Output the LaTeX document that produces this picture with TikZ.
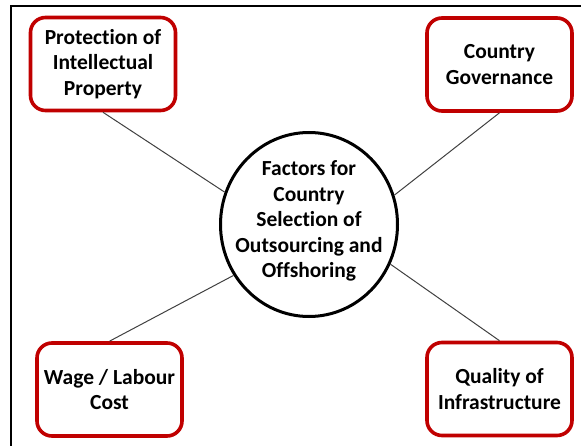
\documentclass[tikz,border=0pt]{standalone}
\usepackage{fontspec}
\setmainfont{Carlito}[Ligatures=NoCommon]
\usetikzlibrary{shapes.geometric}
\definecolor{boxred}{HTML}{C00000}
\definecolor{linegray}{HTML}{404040}
\begin{document}
\begin{tikzpicture}[x=1pt,y=-1pt,
  factor/.style={draw=boxred, line width=3.6pt, rounded corners=15pt, fill=white,
    minimum width=145pt, minimum height=93pt, inner sep=0pt, align=center,
    font=\fontsize{21.5}{25.5}\selectfont\bfseries},
  hub/.style={draw=black, line width=3pt, ellipse, fill=white,
    minimum width=177pt, minimum height=184pt, inner sep=0pt},
  hubtext/.style={align=center, inner sep=0pt, font=\fontsize{21.5}{25.5}\selectfont\bfseries},
  link/.style={draw=linegray, line width=1pt},
  frameline/.style={draw=black, line width=1.8pt}]
\useasboundingbox (0,0) rectangle (581,446);
\coordinate (fa) at (11,446);
\coordinate (fb) at (11,6);
\coordinate (fc) at (581,6);
\draw[frameline] (fa) -- (fb) -- (fc);
\node[hub] (c) at (309,224.5) {};
\node[hubtext] (ct) at (309,221) {Factors for\\Country\\Selection of\\Outsourcing and\\Offshoring};
\node[factor] (tl) at (103,64) {Protection of\\Intellectual\\Property};
\node[factor] (tr) at (499.5,64.5) {Country\\Governance};
\node[factor] (bl) at (109.5,389.5) {Wage / Labour\\Cost};
\node[factor] (br) at (499.5,389) {Quality of\\Infrastructure};
\draw[link] (tl.south) -- (c.159.7);
\draw[link] (tr.south) -- (c.19.5);
\draw[link] (bl.north) -- (c.214.8);
\draw[link] (br.north) -- (c.334.5);
\end{tikzpicture}
\end{document}
